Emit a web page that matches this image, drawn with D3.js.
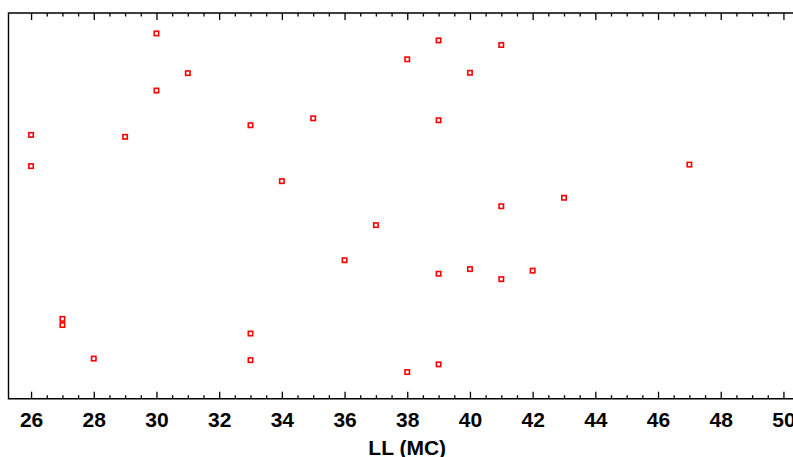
<!DOCTYPE html>
<html>
<head>
<meta charset="utf-8">
<script src="https://cdn.jsdelivr.net/npm/d3@7"></script>
<style>
  body { margin: 0; background: #fff; }
  svg { display: block; font-family: "Liberation Sans", Arial, sans-serif; }
</style>
</head>
<body>
<svg id="chart"></svg>
<script>
(() => {
  // LL (MC) values and the unlabelled vertical position (0-100 of plot height)
  const llValues = [30, 39, 41, 38, 31, 40, 30, 35, 33, 39, 26, 29, 26, 47, 34,
    43, 41, 37, 36, 39, 40, 42, 41, 27, 27, 33, 28, 33, 39, 38];
  const yValues = [94.7, 92.9, 91.7, 88.0, 84.4, 84.5, 79.9, 72.7, 70.9, 72.2, 68.4, 67.9, 60.3, 60.7, 56.4,
    52.1, 49.9, 45.0, 35.9, 32.4, 33.6, 33.2, 31.0, 20.7, 19.1, 16.9, 10.4, 10.0, 8.9, 6.9];
  const majorTicks = d3.range(26, 51, 2);
  const minorTicks = d3.range(26.5, 50.5, 0.5).filter((d) => d % 2 !== 0);
  const xTitle = "LL (MC)";

  const width = 793;
  const height = 457;
  const plotLeft = 8.5, plotRight = 806, plotTop = 13, plotBottom = 398.7;

  const svg = d3.select("#chart").attr("width", width).attr("height", height);

  const x = d3.scaleLinear().domain([25.28, 50.72]).range([plotLeft, plotRight]);
  const y = d3.scaleLinear().domain([0, 100]).range([plotBottom, plotTop]);

  const data = llValues.map((v, i) => ({ x: v, y: yValues[i] }));

  // bottom axis, ticks pointing inward
  const gBottom = svg.append("g").attr("transform", `translate(0,${plotBottom})`);
  gBottom.call(d3.axisBottom(x).tickValues(majorTicks).tickSizeInner(-7).tickSizeOuter(0).tickFormat(d3.format("d")));
  gBottom.append("g").call(d3.axisBottom(x).tickValues(minorTicks).tickSizeInner(-3.5).tickSizeOuter(0).tickFormat(""));
  gBottom.selectAll(".domain").remove();
  gBottom.selectAll(".tick text")
    .attr("y", 28)
    .attr("dy", null)
    .attr("fill", "#000")
    .style("font-size", "21px")
    .style("font-weight", "bold")
    .style("font-family", "'Liberation Sans', Arial, sans-serif");

  // top axis, ticks only
  const gTop = svg.append("g").attr("transform", `translate(0,${plotTop})`);
  gTop.call(d3.axisTop(x).tickValues(majorTicks).tickSizeInner(-7).tickSizeOuter(0).tickFormat(""));
  gTop.append("g").call(d3.axisTop(x).tickValues(minorTicks).tickSizeInner(-3.5).tickSizeOuter(0).tickFormat(""));
  gTop.selectAll(".domain").remove();

  svg.selectAll(".tick line").attr("stroke", "#000").attr("stroke-width", 1.3);

  // frame
  svg.append("path")
    .attr("d", `M${plotRight},${plotTop}H${plotLeft}V${plotBottom}H${plotRight}`)
    .attr("fill", "none")
    .attr("stroke", "#000")
    .attr("stroke-width", 1.4);

  // points
  svg.append("g")
    .selectAll("rect")
    .data(data)
    .join("rect")
    .attr("x", (d) => x(d.x) - 2.2)
    .attr("y", (d) => y(d.y) - 2.2)
    .attr("width", 4.4)
    .attr("height", 4.4)
    .attr("fill", "#fff")
    .attr("stroke", "#ff0000")
    .attr("stroke-width", 1.6);

  // axis title
  svg.append("text")
    .attr("x", (plotLeft + plotRight) / 2)
    .attr("y", 455)
    .attr("text-anchor", "middle")
    .style("font-size", "21px")
    .style("font-weight", "bold")
    .text(xTitle);
})();
</script>
</body>
</html>
